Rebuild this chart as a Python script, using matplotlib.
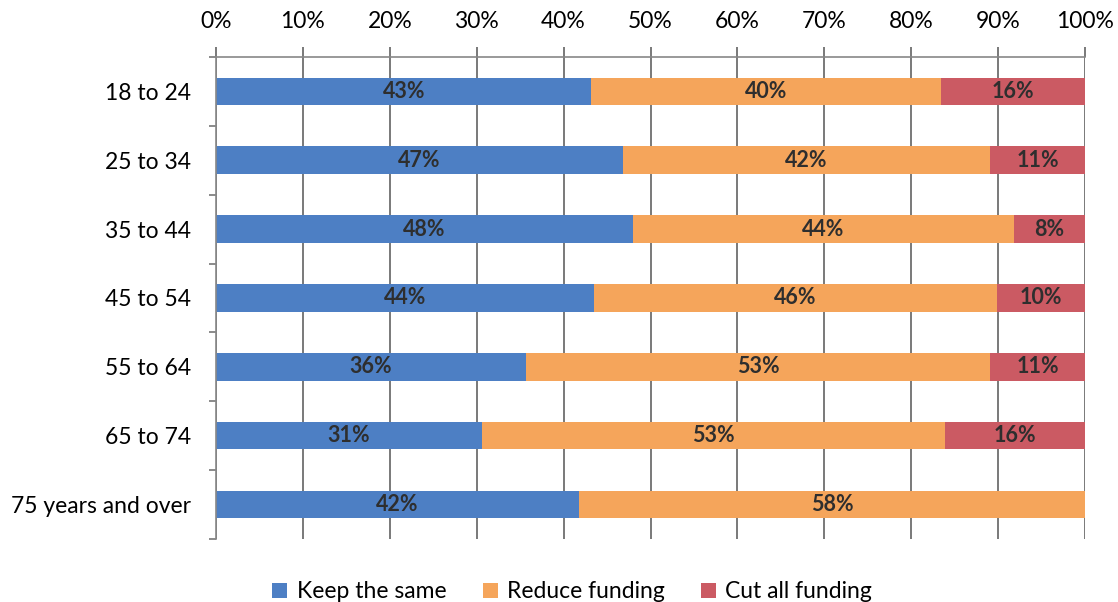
import matplotlib.pyplot as plt
import numpy as np

plt.rcParams["font.family"] = ["Lato", "DejaVu Sans"]

# Data (bar widths, labels as printed)
categories = [
    "18 to 24",
    "25 to 34",
    "35 to 44",
    "45 to 54",
    "55 to 64",
    "65 to 74",
    "75 years and over",
]
keep_same = [43.2, 46.8, 48.0, 43.5, 35.7, 30.6, 41.8]
reduce_funding = [40.2, 42.3, 43.8, 46.4, 53.4, 53.3, 58.2]
cut_all = [16.6, 10.9, 8.2, 10.1, 10.9, 16.1, 0.0]
keep_labels = ["43%", "47%", "48%", "44%", "36%", "31%", "42%"]
reduce_labels = ["40%", "42%", "44%", "46%", "53%", "53%", "58%"]
cut_labels = ["16%", "11%", "8%", "10%", "11%", "16%", ""]
series_names = ["Keep the same", "Reduce funding", "Cut all funding"]
colors = ["#4d7fc4", "#f5a55b", "#cb5a63"]

fig = plt.figure(figsize=(11.18, 6.02), dpi=100)
ax = fig.add_axes([0.1932, 0.1047, 0.7773, 0.8007])

y = np.arange(len(categories))
left = np.zeros(len(categories))
all_labels = [keep_labels, reduce_labels, cut_labels]
for vals, name, col, labs in zip(
    [keep_same, reduce_funding, cut_all], series_names, colors, all_labels
):
    vals = np.array(vals)
    bars = ax.barh(y, vals, left=left, height=0.4, color=col, label=name, zorder=2)
    ax.bar_label(
        bars,
        labels=labs,
        label_type="center",
        fontsize=15.5,
        fontweight="bold",
        color="#2e2e2e",
    )
    left = left + vals

ax.set_xlim(0, 100)
ax.set_ylim(len(categories) - 0.5, -0.5)

# x axis on top with gridlines
ax.xaxis.tick_top()
ax.set_xticks(np.arange(0, 101, 10))
ax.set_xticklabels([f"{v}%" for v in range(0, 101, 10)], fontsize=16.5)
ax.tick_params(axis="x", length=7, color="#6e6e6e", width=1.3, pad=11)
ax.grid(axis="x", color="#6e6e6e", linewidth=1.3, zorder=0)

# y axis: labels at bar centers, ticks at category boundaries
ax.set_yticks(y)
ax.set_yticklabels(categories, fontsize=16.5)
ax.tick_params(axis="y", length=0, pad=18)
ax.set_yticks(np.arange(-0.5, len(categories), 1), minor=True)
ax.tick_params(axis="y", which="minor", length=5, color="#777777", width=1.2)

for side in ["right", "bottom"]:
    ax.spines[side].set_visible(False)
ax.spines["top"].set_color("#888888")
ax.spines["top"].set_linewidth(1.2)
ax.spines["left"].set_color("#888888")
ax.spines["left"].set_linewidth(1.2)

fig.legend(
    loc="lower center",
    bbox_to_anchor=(0.512, -0.035),
    ncol=3,
    frameon=False,
    fontsize=16.5,
    handlelength=0.65,
    handleheight=0.65,
    handletextpad=0.4,
    columnspacing=1.6,
)

fig.savefig("out.png", dpi=100)
